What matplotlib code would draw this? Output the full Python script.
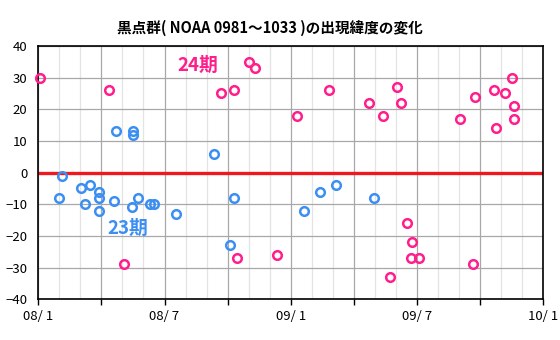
import numpy as np
import matplotlib
matplotlib.use('Agg')
from matplotlib import pyplot as plt

plt.rcParams['font.family'] = ['Noto Sans CJK JP', 'DejaVu Sans']

# days after 08/1, latitude (deg)
c23_x = [2.9, 2.5, 5.2, 6.2, 7.3, 7.3, 5.7, 7.3, 9.1, 11.3, 12.1, 9.4, 11.4, 11.4,
         13.5, 14.0, 16.6, 21.2, 23.6, 23.1, 32.1, 34.0, 36.0, 40.5]
c23_y = [-1, -8, -5, -4, -6, -8, -10, -12, -9, -11, -8, 13, 13, 12,
         -10, -10, -13, 6, -8, -23, -12, -6, -4, -8]
c24_x = [0.2, 8.6, 10.3, 22.1, 23.7, 24.0, 25.4, 26.2, 35.1, 31.3, 28.8, 39.9,
         43.3, 43.8, 41.7, 44.6, 45.1, 45.0, 46.0, 42.5, 50.9, 52.7, 55.0, 56.4,
         57.2, 57.5, 57.5, 55.3, 52.5]
c24_y = [30, 26, -29, 25, 26, -27, 35, 33, 26, 18, -26, 22,
         27, 22, 18, -16, -22, -27, -27, -33, 17, 24, 26, 25,
         30, 21, 17, 14, -29]
x_labels = ['08/ 1', '08/ 7', '09/ 1', '09/ 7', '10/ 1']

pink = '#ff1e8c'
blue = '#3c8ff2'

fig = plt.figure(figsize=(5.6, 3.4), dpi=100)
ax = fig.add_axes([0.0684, 0.1197, 0.9016, 0.745])

ax.set_xlim(0, 61)
ax.set_ylim(-40, 40)
ax.set_xticks(np.linspace(0, 61, 25), minor=True)
ax.set_xticks(np.linspace(0, 61, 9))
ax.set_xticklabels([x_labels[i // 2] if i % 2 == 0 else '' for i in range(9)])
ax.set_yticks(np.arange(-40, 41, 10))
ax.grid(which='minor', axis='x', color='#e4e4e4', lw=0.9)
ax.grid(which='major', color='#a8a8a8', lw=0.9)
ax.set_axisbelow(True)
ax.tick_params(axis='x', which='major', direction='out', length=4, width=1,
               labelsize=9.5, pad=4)
ax.tick_params(axis='x', which='minor', length=0)
ax.tick_params(axis='y', length=0, labelsize=9.5, pad=8)
for s in ax.spines.values():
    s.set_linewidth(1.2)

ax.axhline(0, color='#f01820', lw=2.4, zorder=2)
ax.plot(c23_x, c23_y, 'o', ms=6.2, mfc='none', mec=blue, mew=1.8, zorder=3,
        clip_on=False)
ax.plot(c24_x, c24_y, 'o', ms=6.2, mfc='none', mec=pink, mew=1.8, zorder=3,
        clip_on=False)

ax.text(19.3, 34, '24期', color=pink, fontsize=13.5, fontweight='bold',
        ha='center', va='center')
ax.text(10.8, -17.5, '23期', color=blue, fontsize=13.5, fontweight='bold',
        ha='center', va='center')
fig.text(0.482, 0.918, '黒点群( NOAA 0981～1033 )の出現緯度の変化',
         ha='center', va='center', fontsize=10.5, fontweight='bold')

fig.savefig('out.png', dpi=100)
